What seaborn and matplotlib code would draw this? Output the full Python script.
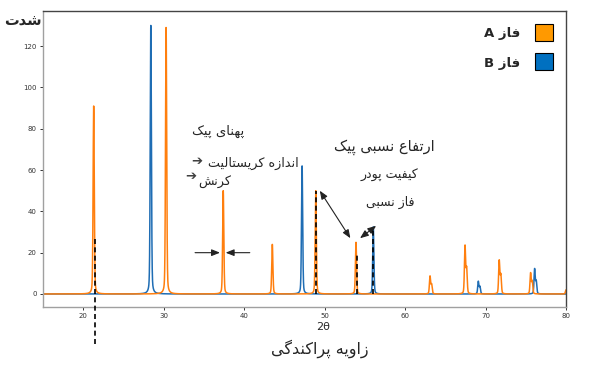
import numpy as np
import pandas as pd
import matplotlib
matplotlib.use("Agg")
import matplotlib.pyplot as plt
from matplotlib.patches import Rectangle
import seaborn as sns

phase_a_pos = [21.3, 30.3, 37.4, 43.5, 48.9, 53.9, 63.1, 63.3, 67.45, 67.65, 71.7, 71.9, 75.6, 75.8, 80.0]
phase_a_int = [91, 129, 50, 24, 50, 25, 8.5, 4.5, 23, 12, 16, 9, 10, 6, 2]
phase_b_pos = [28.4, 47.2, 56.05, 69.1, 69.3, 76.1, 76.3]
phase_b_int = [130, 62, 32.5, 6, 3.5, 12, 6]

# dashed reference lines
ref_pos = [21.45, 48.95, 54.0, 56.05]
ref_top = [27, 50, 20, 31]
ref_bottom = [-24, 0, 0, 0]

x_ticks = [20, 30, 40, 50, 60, 70, 80]
y_ticks = [0, 20, 40, 60, 80, 100, 120]

c_a = "#ff7f0e"
c_b = "#1f6db4"

# simple Persian shaping for matplotlib (no bidi support there)
FORMS = {
    "ا": ("\ufe8d", "\ufe8e", None, None),
    "ب": ("\ufe8f", "\ufe90", "\ufe91", "\ufe92"),
    "پ": ("\ufb56", "\ufb57", "\ufb58", "\ufb59"),
    "ت": ("\ufe95", "\ufe96", "\ufe97", "\ufe98"),
    "د": ("\ufea9", "\ufeaa", None, None),
    "ر": ("\ufead", "\ufeae", None, None),
    "ز": ("\ufeaf", "\ufeb0", None, None),
    "س": ("\ufeb1", "\ufeb2", "\ufeb3", "\ufeb4"),
    "ش": ("\ufeb5", "\ufeb6", "\ufeb7", "\ufeb8"),
    "ع": ("\ufec9", "\ufeca", "\ufecb", "\ufecc"),
    "ف": ("\ufed1", "\ufed2", "\ufed3", "\ufed4"),
    "ک": ("\ufb8e", "\ufb8f", "\ufb90", "\ufb91"),
    "گ": ("\ufb92", "\ufb93", "\ufb94", "\ufb95"),
    "ل": ("\ufedd", "\ufede", "\ufedf", "\ufee0"),
    "ن": ("\ufee5", "\ufee6", "\ufee7", "\ufee8"),
    "و": ("\ufeed", "\ufeee", None, None),
    "ه": ("\ufee9", "\ufeea", "\ufeeb", "\ufeec"),
    "ی": ("\ufbfc", "\ufbfd", "\ufbfe", "\ufbff"),
}


def fa(s):
    out = []
    for i, ch in enumerate(s):
        if ch not in FORMS:
            out.append(ch)
            continue
        prev_j = i > 0 and s[i - 1] in FORMS and FORMS[s[i - 1]][2] is not None
        next_j = i < len(s) - 1 and s[i + 1] in FORMS and FORMS[ch][2] is not None
        iso, fin, ini, med = FORMS[ch]
        if prev_j and next_j:
            out.append(med)
        elif prev_j:
            out.append(fin)
        elif next_j:
            out.append(ini)
        else:
            out.append(iso)
    return "".join(out)[::-1]


def profile(x, pos, hts, fwhm=0.17, eta=0.3):
    y = np.zeros_like(x)
    g = fwhm / 2.3548
    for p, h in zip(pos, hts):
        lor = 1 / (1 + ((x - p) / (fwhm / 2)) ** 2)
        gau = np.exp(-0.5 * ((x - p) / g) ** 2)
        y += h * (eta * lor + (1 - eta) * gau)
    return y


two_theta = np.arange(15, 80.001, 0.005)
df = pd.DataFrame({
    "2θ": two_theta,
    "A": profile(two_theta, phase_a_pos, phase_a_int),
    "B": profile(two_theta, phase_b_pos, phase_b_int),
})

sns.set_style("white")
plt.rcParams["font.family"] = ["DejaVu Sans"]

fig = plt.figure(figsize=(6, 3.74), dpi=100)
ax = fig.add_axes([43 / 600, 1 - 307 / 374, 523 / 600, 296 / 374])

sns.lineplot(data=df, x="2θ", y="B", color=c_b, lw=1.1, estimator=None, ax=ax)
sns.lineplot(data=df, x="2θ", y="A", color=c_a, lw=1.1, estimator=None, ax=ax)

for xp, yt, yb in zip(ref_pos, ref_top, ref_bottom):
    ax.plot([xp, xp], [yb, yt], color="black", lw=1.2, ls=(0, (3, 2)), clip_on=False, zorder=5)

ax.set_xlim(15, 80)
ax.set_ylim(-6.3, 137)
ax.set_xticks(x_ticks)
ax.set_yticks(y_ticks)
ax.tick_params(labelsize=5, length=2.5, width=0.7, pad=2, bottom=True, left=True, colors="#333333")
ax.set_xlabel("")
ax.set_ylabel("")
for side in ["left", "bottom"]:
    ax.spines[side].set_color("#a0a0a0")
for side in ["top", "right"]:
    ax.spines[side].set_color("#444444")
for sp in ax.spines.values():
    sp.set_linewidth(1.0)

# arrows
arr = dict(arrowstyle="<|-|>,head_length=0.5,head_width=0.2", color="#222222", lw=0.8, shrinkA=0, shrinkB=0)
ax.annotate("", xy=(49.4, 50), xytext=(53.2, 27), arrowprops=arr)
ax.annotate("", xy=(54.4, 27), xytext=(56.4, 33), arrowprops=arr)
one = dict(arrowstyle="-|>,head_length=0.5,head_width=0.2", color="#222222", lw=0.8, shrinkA=0, shrinkB=0)
ax.annotate("", xy=(37.0, 20), xytext=(33.9, 20), arrowprops=one)
ax.annotate("", xy=(37.7, 20), xytext=(40.7, 20), arrowprops=one)

# texts, positions in figure pixels
def ftext(px, py, s, **kw):
    fig.text(px / 600, 1 - py / 374, s, **kw)

ftext(218, 131, fa("پهنای پیک"), fontsize=9.5, ha="center", va="center")
ftext(253, 163, fa("اندازه کریستالیت"), fontsize=9.2, ha="center", va="center")
ftext(215, 183, fa("کرنش"), fontsize=9.2, ha="center", va="center")
ftext(197, 162, "➔", fontsize=9.5, ha="center", va="center", color="#404040")
ftext(191, 177, "➔", fontsize=9.5, ha="center", va="center", color="#404040")
ftext(384, 147, fa("ارتفاع نسبی پیک"), fontsize=10.5, ha="center", va="center")
ftext(389, 176, fa("کیفیت پودر"), fontsize=9, ha="center", va="center")
ftext(390, 202, fa("فاز نسبی"), fontsize=9, ha="center", va="center")

ftext(4, 21, fa("شدت"), fontsize=10.5, fontweight="bold", ha="left", va="center")
ftext(323, 327, "2θ", fontsize=8, ha="center", va="center")
ftext(320, 349, fa("زاویه پراکندگی"), fontsize=11.5, ha="center", va="center")

# legend
ftext(520, 34, "A " + fa("فاز"), fontsize=9.5, fontweight="bold", ha="right", va="center")
ftext(520, 63, "B " + fa("فاز"), fontsize=9.5, fontweight="bold", ha="right", va="center")
fig.add_artist(Rectangle((535 / 600, 1 - 41 / 374), 18 / 600, 17 / 374, transform=fig.transFigure,
                         facecolor="#ff9900", edgecolor="black", lw=0.8))
fig.add_artist(Rectangle((535 / 600, 1 - 70 / 374), 18 / 600, 17 / 374, transform=fig.transFigure,
                         facecolor="#0070c0", edgecolor="black", lw=0.8))

fig.savefig("out.png", dpi=100)
